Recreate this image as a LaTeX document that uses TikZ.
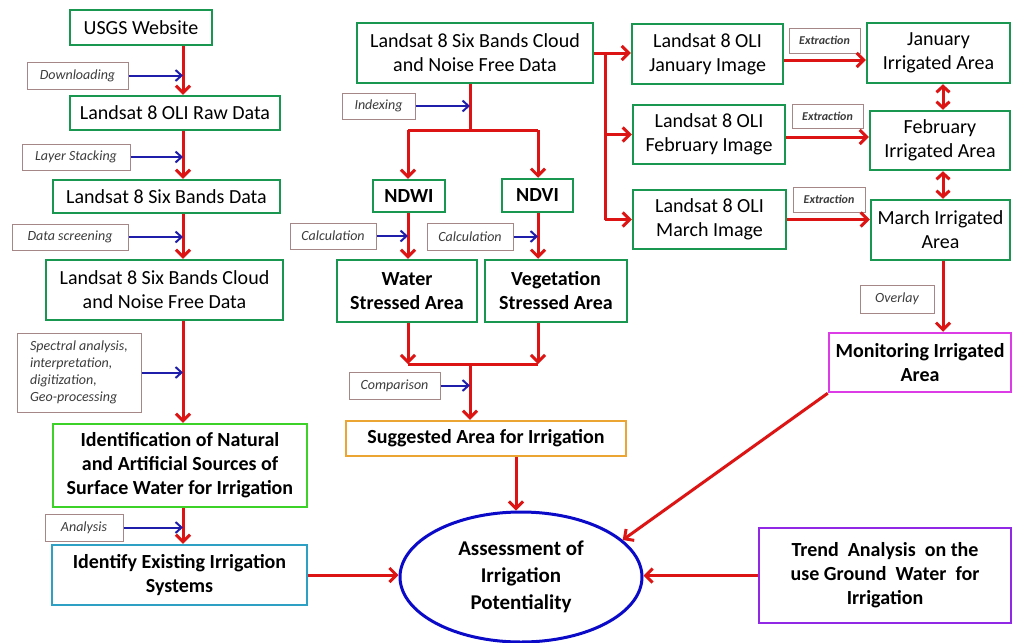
\documentclass[tikz,border=0pt]{standalone}
\usepackage{fontspec}
\setmainfont{Carlito}
\usetikzlibrary{arrows.meta,shapes.geometric}
\definecolor{gboxc}{RGB}{25,150,80}
\definecolor{lgreen}{RGB}{60,210,40}
\definecolor{tealc}{RGB}{45,160,195}
\definecolor{orangec}{RGB}{235,165,50}
\definecolor{magc}{RGB}{220,60,230}
\definecolor{purc}{RGB}{145,40,230}
\definecolor{redc}{RGB}{220,20,20}
\definecolor{bluec}{RGB}{30,30,170}
\definecolor{ellc}{RGB}{10,10,200}
\definecolor{lblc}{RGB}{165,135,135}
\definecolor{lbltext}{RGB}{60,60,60}
\begin{document}
\begin{tikzpicture}[x=1pt,y=-1pt,
  box/.style={draw, line width=2.5pt, inner sep=2pt, align=center, fill=white,
    font=\fontsize{20}{24}\selectfont},
  gbox/.style={box, draw=gboxc},
  bbox/.style={box, font=\fontsize{20}{24}\selectfont\bfseries},
  lbl/.style={draw=lblc, line width=1pt, fill=white, inner sep=2pt,
    font=\fontsize{14}{17}\selectfont\itshape, text=lbltext},
  exl/.style={lbl, font=\fontsize{12}{14}\selectfont\itshape\bfseries},
  rarr/.style={draw=redc, line width=3pt, -{Straight Barb[length=7pt,width=14pt]}},
  rdarr/.style={draw=redc, line width=3pt, {Straight Barb[length=6pt,width=13pt]}-{Straight Barb[length=6pt,width=13pt]}},
  rline/.style={draw=redc, line width=3pt},
  barr/.style={draw=bluec, line width=2pt, -{Straight Barb[length=6pt,width=11pt]}}
]
\useasboundingbox (0,0) rectangle (1013,643);

% left column
\node[gbox, minimum width=142pt, minimum height=35pt] (usgs) at (141,27.5) {USGS Website};
\node[gbox, minimum width=210pt, minimum height=34pt] (raw) at (175,113) {Landsat 8 OLI Raw Data};
\node[gbox, minimum width=227pt, minimum height=33pt] (six) at (166.5,196.5) {Landsat 8 Six Bands Data};
\node[gbox, minimum width=237pt, minimum height=60pt] (cloudL) at (164.5,290) {Landsat 8 Six Bands Cloud\\and Noise Free Data};
\node[bbox, draw=lgreen, minimum width=254pt, minimum height=83pt] (ident) at (180,465.5) {Identification of Natural\\and Artificial Sources of\\Surface Water for Irrigation};
\node[bbox, draw=tealc, minimum width=255pt, minimum height=60pt] (exist) at (179.5,575) {Identify Existing Irrigation\\Systems};

% middle column
\node[gbox, minimum width=236pt, minimum height=60pt] (cloudM) at (475,53) {Landsat 8 Six Bands Cloud\\and Noise Free Data};
\node[bbox, draw=gboxc, minimum width=72pt, minimum height=32pt] (ndwi) at (409,196) {NDWI};
\node[bbox, draw=gboxc, minimum width=71pt, minimum height=33pt] (ndvi) at (537.5,195.5) {NDVI};
\node[bbox, draw=gboxc, minimum width=140pt, minimum height=62pt] (water) at (407,291) {Water\\Stressed Area};
\node[bbox, draw=gboxc, minimum width=142pt, minimum height=62pt] (veg) at (556,291) {Vegetation\\Stressed Area};
\node[bbox, draw=orangec, minimum width=280pt, minimum height=35pt] (sugg) at (486,438.5) {Suggested Area for Irrigation};
\node[ellipse, draw=ellc, line width=3pt, fill=white, inner sep=0pt, align=center,
  minimum width=242pt, minimum height=130pt, font=\fontsize{21}{27}\selectfont\bfseries] (ell) at (521,577) {Assessment of\\Irrigation\\Potentiality};

% right column
\node[gbox, minimum width=151pt, minimum height=60pt] (janimg) at (707.5,54) {Landsat 8 OLI\\January Image};
\node[gbox, minimum width=152pt, minimum height=59pt] (febimg) at (709,134.5) {Landsat 8 OLI\\February Image};
\node[gbox, minimum width=153pt, minimum height=59pt] (marimg) at (709.5,219.5) {Landsat 8 OLI\\March Image};
\node[gbox, minimum width=143pt, minimum height=60pt] (janirr) at (938.5,53) {January\\Irrigated Area};
\node[gbox, minimum width=140pt, minimum height=59pt] (febirr) at (940,140.5) {February\\Irrigated Area};
\node[gbox, minimum width=139pt, minimum height=60pt] (marirr) at (940.5,230) {March Irrigated\\Area};
\node[bbox, draw=magc, minimum width=182pt, minimum height=59pt] (monitor) at (920,362.5) {Monitoring Irrigated\\Area};
\node[bbox, draw=purc, minimum width=252pt, minimum height=95pt] (trend) at (885,575.5) {Trend\ \ Analysis\ \ on\ the\\use\ Ground\ \ Water\ \ for\\Irrigation};

% labels
\node[lbl, minimum width=101pt, minimum height=27pt] (dl) at (77.5,75.5) {Downloading};
\node[lbl, minimum width=108pt, minimum height=26pt] (ls) at (76,157) {Layer Stacking};
\node[lbl, minimum width=116pt, minimum height=26pt] (ds) at (70,237) {Data screening};
\node[lbl, minimum width=124pt, minimum height=79pt, align=left] (sp) at (79,372.5) {Spectral analysis,\\interpretation,\\digitization,\\Geo-processing};
\node[lbl, minimum width=78pt, minimum height=27pt] (an) at (84,527.5) {Analysis};
\node[lbl, minimum width=73pt, minimum height=26pt] (ix) at (378.5,106) {Indexing};
\node[lbl, minimum width=86pt, minimum height=26pt] (c1) at (333,236) {Calculation};
\node[lbl, minimum width=86pt, minimum height=27pt] (c2) at (470,236.5) {Calculation};
\node[lbl, minimum width=91pt, minimum height=27pt] (cp) at (394.5,385.5) {Comparison};
\node[exl, minimum width=71pt, minimum height=25pt] (ex1) at (824.5,40.5) {Extraction};
\node[exl, minimum width=71pt, minimum height=24pt] (ex2) at (827.5,116) {Extraction};
\node[exl, minimum width=72pt, minimum height=25pt] (ex3) at (829,199.5) {Extraction};
\node[lbl, minimum width=74pt, minimum height=28pt] (ov) at (897,299) {Overlay};

% helper coordinates
\coordinate (lc) at (183,0);
\coordinate (mc) at (470,0);
\coordinate (wc) at (408,0);
\coordinate (vc) at (538,0);
\coordinate (sc) at (516,0);
\coordinate (ic) at (943,0);
\coordinate (br1) at (470,130);
\coordinate (br2) at (470,364);
\coordinate (t1) at (605,53);

% left column connectors
\draw[rarr] (usgs.south -| lc) -- (raw.north -| lc);
\draw[rarr] (raw.south -| lc) -- (six.north -| lc);
\draw[rarr] (six.south -| lc) -- (cloudL.north -| lc);
\draw[rarr] (cloudL.south -| lc) -- (ident.north -| lc);
\draw[rarr] (ident.south -| lc) -- (exist.north -| lc);
\draw[barr] (dl.east) -- (dl.east -| lc);
\draw[barr] (ls.east) -- (ls.east -| lc);
\draw[barr] (ds.east) -- (ds.east -| lc);
\draw[barr] (sp.east) -- (sp.east -| lc);
\draw[barr] (an.east) -- (an.east -| lc);

% middle connectors
\draw[rline] (cloudM.south -| mc) -- (br1);
\draw[rline] (br1 -| wc) -- (br1 -| vc);
\draw[rarr] (br1 -| wc) -- (ndwi.north -| wc);
\draw[rarr] (br1 -| vc) -- (ndvi.north -| vc);
\draw[rarr] (ndwi.south -| wc) -- (water.north -| wc);
\draw[rarr] (ndvi.south -| vc) -- (veg.north -| vc);
\draw[rarr] (water.south -| wc) -- (br2 -| wc);
\draw[rarr] (veg.south -| vc) -- (br2 -| vc);
\draw[rline] (br2 -| wc) -- (br2 -| vc);
\draw[rarr] (br2) -- (sugg.north -| br2);
\draw[rarr] (sugg.south -| sc) -- (ell.north -| sc);
\draw[barr] (ix.east) -- (ix.east -| mc);
\draw[barr] (c1.east) -- (c1.east -| wc);
\draw[barr] (c2.east) -- (c2.east -| vc);
\draw[barr] (cp.east) -- (cp.east -| mc);

% right connectors
\draw[rline] (cloudM.east |- t1) -- (t1) -- (t1 |- marimg.west);
\draw[rarr] (t1) -- (janimg.west |- t1);
\draw[rarr] (t1 |- febimg.west) -- (febimg.west);
\draw[rarr] (t1 |- marimg.west) -- (marimg.west);
\draw[rarr] ([yshift=-6pt]janimg.east) -- ([yshift=-6pt]janimg.east -| janirr.west);
\draw[rarr] ([yshift=-2.5pt]febimg.east) -- ([yshift=-2.5pt]febimg.east -| febirr.west);
\draw[rarr] (marimg.east) -- (marimg.east -| marirr.west);
\draw[rdarr] (janirr.south -| ic) -- (febirr.north -| ic);
\draw[rdarr] (febirr.south -| ic) -- (marirr.north -| ic);
\draw[rarr] (marirr.south -| ic) -- (monitor.north -| ic);
\draw[rarr] (monitor.south west) -- (ell.20);
\draw[rarr] (exist.east) -- (exist.east -| ell.west);
\draw[rarr] (trend.west) -- (trend.west -| ell.east);
\end{tikzpicture}
\end{document}
